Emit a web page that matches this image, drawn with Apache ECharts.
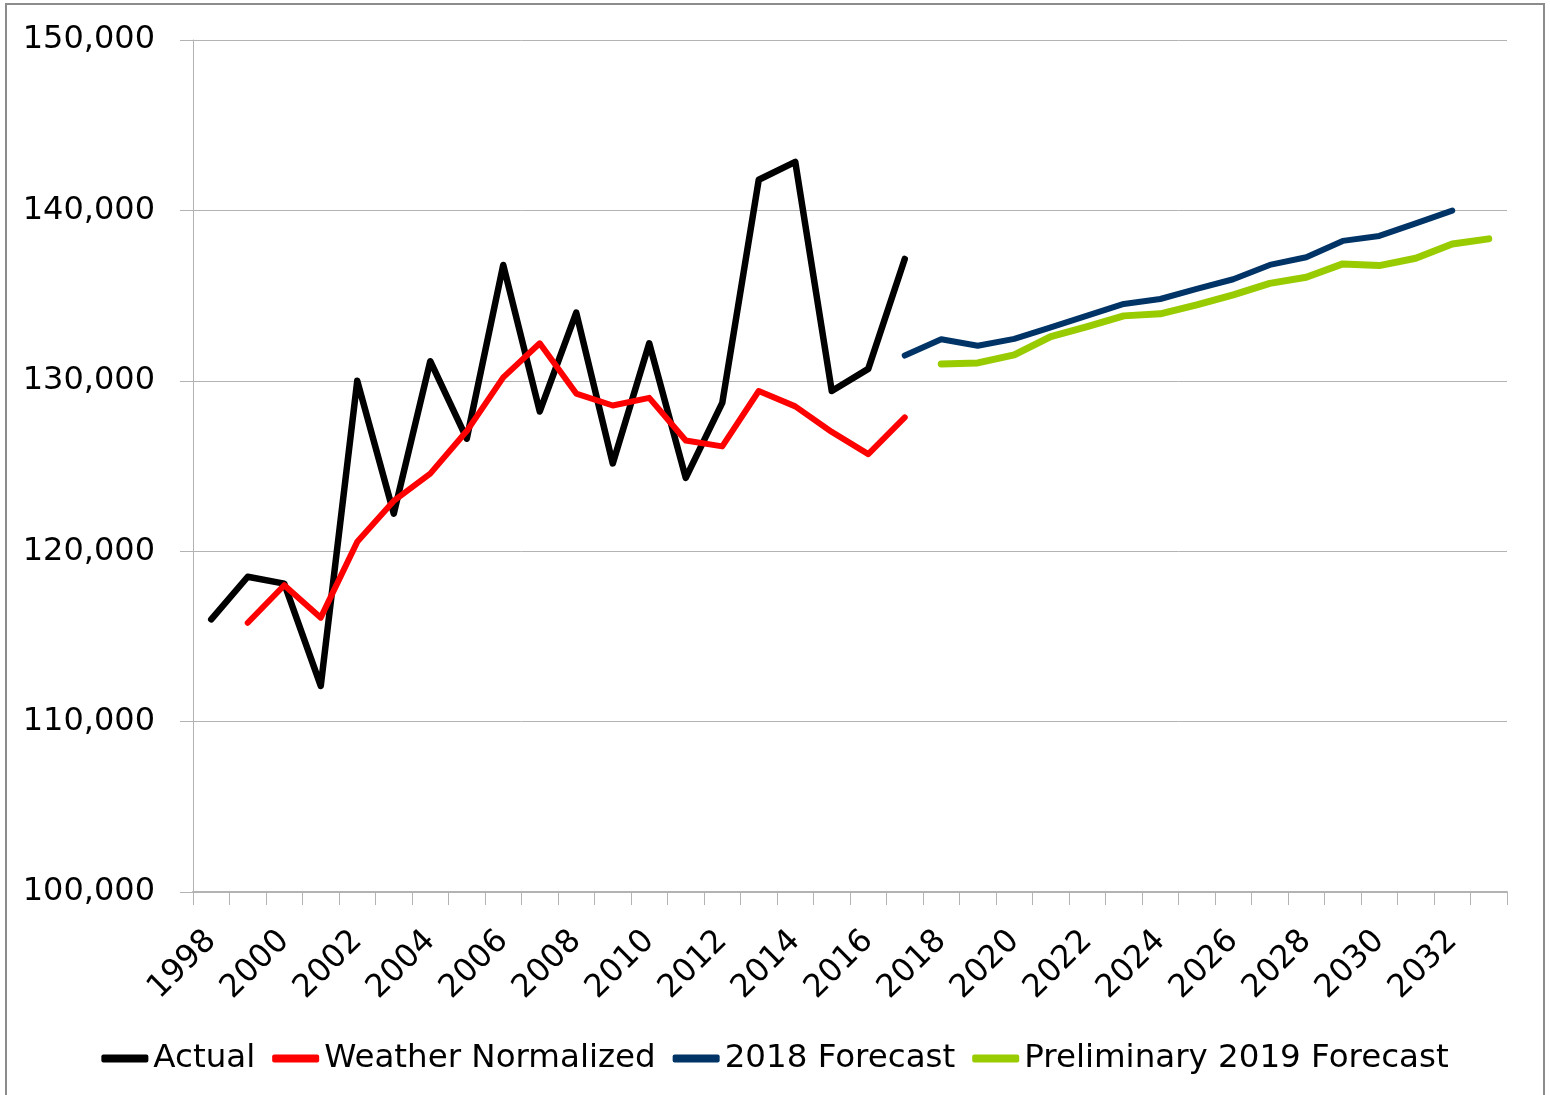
<!DOCTYPE html>
<html>
<head>
<meta charset="utf-8">
<script src="https://cdn.jsdelivr.net/npm/echarts@6/dist/echarts.min.js"></script>
<style>
html,body{margin:0;padding:0;background:#fff;}
#chart{width:1550px;height:1095px;}
</style>
</head>
<body>
<div id="chart"></div>
<script>
var years = [];
for (var y = 1998; y <= 2033; y++) years.push(String(y));

var actual = [116000, 118500, 118100, 112100, 130000, 122200, 131150, 126600, 136800, 128200,
              134000, 125150, 132200, 124300, 128700, 141800, 142850, 129400, 130700, 137150];
var weatherNormalized = [null, 115800, 118000, 116100, 120550, 122950, 124550, 127050, 130200, 132200,
              129250, 128550, 129000, 126500, 126150, 129400, 128500, 127000, 125700, 127850];
var forecast2018 = [null, null, null, null, null, null, null, null, null, null,
              null, null, null, null, null, null, null, null, null,
              131480, 132440, 132060, 132460, 133140, 133820, 134510, 134800, 135390, 135960,
              136800, 137250, 138210, 138500, 139240, 139990, null];
var prelim2019 = [null, null, null, null, null, null, null, null, null, null,
              null, null, null, null, null, null, null, null, null, null,
              130990, 131050, 131520, 132590, 133180, 133810, 133930, 134450, 135040, 135720,
              136080, 136860, 136760, 137190, 138030, 138330];

var yTicks = { min: 100000, max: 150000, interval: 10000 };

function fmt(v) { return String(v).replace(/\B(?=(\d{3})+(?!\d))/g, ','); }

var FONT = 'DejaVu Sans';
var chart = echarts.init(document.getElementById('chart'), null, { renderer: 'canvas' });

function lineSeries(name, data, color, width) {
  return {
    name: name, type: 'line', data: data, symbol: 'none', showSymbol: false,
    connectNulls: false,
    lineStyle: { color: color, width: width, cap: 'round', join: 'round' },
    itemStyle: { color: color },
    emphasis: { disabled: true }
  };
}

chart.setOption({
  animation: false,
  backgroundColor: '#fff',
  graphic: [{
    type: 'rect', silent: true,
    shape: { x: 6, y: 4, width: 1538, height: 1100 },
    style: { fill: 'none', stroke: '#8c8c8c', lineWidth: 2 }
  }],
  grid: { left: 193, right: 43, top: 40, bottom: 203, containLabel: false },
  legend: {
    top: 1037, left: 'center',
    icon: 'roundRect', itemWidth: 47, itemHeight: 8, itemGap: 17,
    textStyle: { fontFamily: FONT, fontSize: 32.5, color: '#000' },
    data: ['Actual', 'Weather Normalized', '2018 Forecast', 'Preliminary 2019 Forecast']
  },
  xAxis: {
    type: 'category', data: years, boundaryGap: true,
    axisLine: { show: true, lineStyle: { color: '#b3b3b3', width: 2 } },
    axisTick: { show: true, interval: 0, length: 13, lineStyle: { color: '#b3b3b3', width: 1 } },
    axisLabel: { interval: 1, rotate: 45, fontFamily: FONT, fontSize: 32, color: '#000', margin: 44 },
    splitLine: { show: false }
  },
  yAxis: {
    type: 'value', min: yTicks.min, max: yTicks.max, interval: yTicks.interval,
    axisLine: { show: true, lineStyle: { color: '#b3b3b3', width: 1 } },
    axisTick: { show: true, length: 13, lineStyle: { color: '#b3b3b3' } },
    axisLabel: { formatter: fmt, fontFamily: FONT, fontSize: 32, color: '#000', margin: 38 },
    splitLine: { show: true, lineStyle: { color: '#b3b3b3', width: 1 } }
  },
  series: [
    lineSeries('Actual', actual, '#000000', 6.5),
    lineSeries('Weather Normalized', weatherNormalized, '#ff0000', 6),
    lineSeries('2018 Forecast', forecast2018, '#003366', 6),
    lineSeries('Preliminary 2019 Forecast', prelim2019, '#99cc00', 7)
  ]
});
</script>
</body>
</html>
